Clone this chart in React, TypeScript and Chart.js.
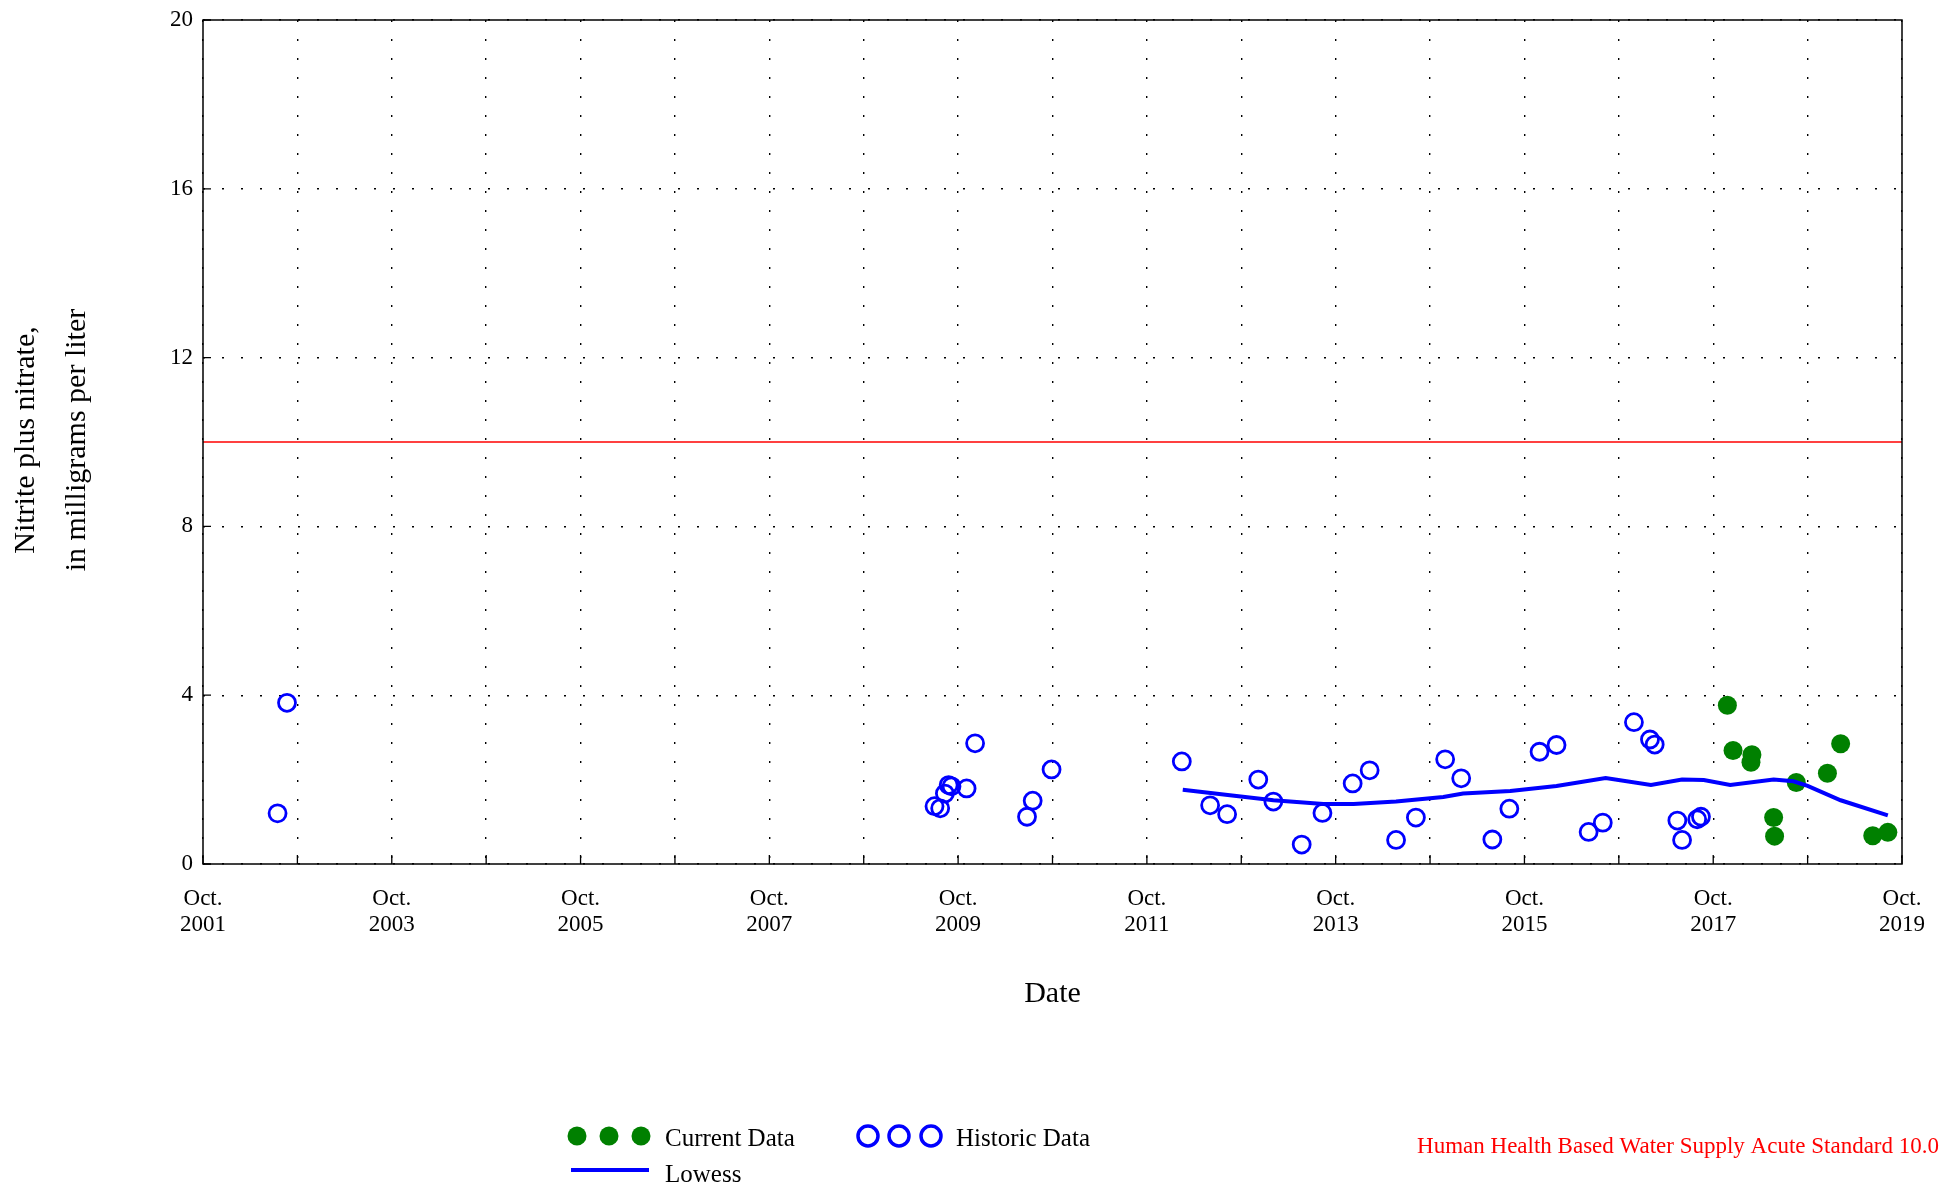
import { useEffect, useRef } from 'react';
import { Chart, registerables } from 'chart.js';

Chart.register(...registerables);

// ---- Data (decimal years, mg/L) ----
const historicDates = [
  2002.54, 2002.64, 2009.5, 2009.56, 2009.61, 2009.65, 2009.68, 2009.84, 2009.93,
  2010.48, 2010.54, 2010.74, 2012.12, 2012.42, 2012.6, 2012.93, 2013.09, 2013.39,
  2013.61, 2013.93, 2014.11, 2014.39, 2014.6, 2014.91, 2015.08, 2015.41, 2015.59,
  2015.91, 2016.09, 2016.43, 2016.58, 2016.91, 2017.08, 2017.13, 2017.37, 2017.42,
  2017.58, 2017.62,
];
const historicValues = [
  1.2, 3.82, 1.37, 1.32, 1.67, 1.87, 1.84, 1.79, 2.86,
  1.12, 1.5, 2.24, 2.43, 1.39, 1.18, 2.0, 1.48, 0.46,
  1.21, 1.91, 2.22, 0.57, 1.1, 2.48, 2.03, 0.58, 1.31,
  2.66, 2.82, 0.76, 0.98, 3.36, 2.95, 2.83, 1.03, 0.57,
  1.06, 1.12,
];
const currentDates = [2017.9, 2017.96, 2018.15, 2018.16, 2018.39, 2018.4, 2018.63, 2018.96, 2019.1, 2019.44, 2019.6];
const currentValues = [3.76, 2.69, 2.41, 2.59, 1.1, 0.66, 1.93, 2.15, 2.85, 0.67, 0.75];
const lowessDates = [
  2012.13, 2012.63, 2013.09, 2013.62, 2013.94, 2014.39, 2014.89, 2015.1, 2015.6, 2016.09,
  2016.61, 2017.09, 2017.42, 2017.65, 2017.93, 2018.39, 2018.6, 2018.75, 2019.1, 2019.6,
];
const lowessValues = [
  1.76, 1.63, 1.51, 1.42, 1.42, 1.48, 1.59, 1.67, 1.73, 1.85,
  2.04, 1.87, 2.0, 1.99, 1.87, 2.0, 1.96, 1.85, 1.51, 1.15,
];
const standardValue = 10.0;
const xRange = [2001.75, 2019.75];
const xTickDates = [
  2001.75, 2002.75, 2003.75, 2004.75, 2005.75, 2006.75, 2007.75, 2008.75, 2009.75, 2010.75,
  2011.75, 2012.75, 2013.75, 2014.75, 2015.75, 2016.75, 2017.75, 2018.75, 2019.75,
];
const xTickLabels = [
  'Oct.\n2001', '', 'Oct.\n2003', '', 'Oct.\n2005', '', 'Oct.\n2007', '', 'Oct.\n2009', '',
  'Oct.\n2011', '', 'Oct.\n2013', '', 'Oct.\n2015', '', 'Oct.\n2017', '', 'Oct.\n2019',
];
const yTickValues = [0, 4, 8, 12, 16, 20];

const SERIF = '"Liberation Serif", "Times New Roman", serif';
const BLUE = '#0000ff';
const GREEN = '#008000';
const RED = '#ff0000';

const decorPlugin = {
  id: 'decor',
  afterDraw(chart: any) {
    const ctx = chart.ctx;
    const { left, right, top, bottom } = chart.chartArea;
    const xs = chart.scales.x;
    const ys = chart.scales.y;
    ctx.save();
    // frame
    ctx.strokeStyle = '#000';
    ctx.lineWidth = 1.5;
    ctx.strokeRect(left, top, right - left, bottom - top);
    // inward ticks
    ctx.lineWidth = 1.3;
    ctx.beginPath();
    xTickDates.forEach((d) => {
      const px = xs.getPixelForValue(d);
      ctx.moveTo(px, bottom);
      ctx.lineTo(px, bottom - 9);
    });
    yTickValues.forEach((v) => {
      const py = ys.getPixelForValue(v);
      ctx.moveTo(left, py);
      ctx.lineTo(left + 8, py);
    });
    ctx.stroke();

    // axis titles
    ctx.fillStyle = '#000';
    ctx.font = `30px ${SERIF}`;
    ctx.textAlign = 'center';
    ctx.textBaseline = 'middle';
    ctx.fillText('Date', (left + right) / 2, 994);
    ctx.save();
    ctx.translate(26, 440);
    ctx.rotate(-Math.PI / 2);
    ctx.fillText('Nitrite plus nitrate,', 0, 0);
    ctx.restore();
    ctx.save();
    ctx.translate(77, 440);
    ctx.rotate(-Math.PI / 2);
    ctx.fillText('in milligrams per liter', 0, 0);
    ctx.restore();

    // legend
    const ly = 1136;
    ctx.fillStyle = GREEN;
    [577, 609, 641].forEach((cx) => {
      ctx.beginPath();
      ctx.arc(cx, ly, 9.5, 0, Math.PI * 2);
      ctx.fill();
    });
    ctx.strokeStyle = BLUE;
    ctx.lineWidth = 3.5;
    [868, 899, 931].forEach((cx) => {
      ctx.beginPath();
      ctx.arc(cx, ly, 10, 0, Math.PI * 2);
      ctx.stroke();
    });
    ctx.lineWidth = 4;
    ctx.beginPath();
    ctx.moveTo(571, 1170);
    ctx.lineTo(649, 1170);
    ctx.stroke();
    ctx.fillStyle = '#000';
    ctx.font = `25px ${SERIF}`;
    ctx.textAlign = 'left';
    ctx.fillText('Current Data', 665, 1139);
    ctx.fillText('Historic Data', 956, 1139);
    ctx.fillText('Lowess', 665, 1175);

    ctx.fillStyle = RED;
    ctx.font = `23px ${SERIF}`;
    ctx.textAlign = 'right';
    ctx.fillText('Human Health Based Water Supply Acute Standard 10.0', 1939, 1147);
    ctx.restore();
  },
};

export default function App() {
  const ref = useRef<HTMLCanvasElement>(null);
  useEffect(() => {
    if (!ref.current) return;
    const chart = new Chart(ref.current, {
      type: 'scatter',
      data: {
        datasets: [
          {
            label: 'Standard',
            data: xRange.map((x) => ({ x, y: standardValue })),
            showLine: true,
            borderColor: RED,
            borderWidth: 1.3,
            pointRadius: 0,
          },
          {
            label: 'Lowess',
            data: lowessDates.map((x, i) => ({ x, y: lowessValues[i] })),
            showLine: true,
            borderColor: BLUE,
            borderWidth: 4,
            pointRadius: 0,
          },
          {
            label: 'Historic Data',
            data: historicDates.map((x, i) => ({ x, y: historicValues[i] })),
            pointRadius: 8.5,
            pointStyle: 'circle',
            borderColor: BLUE,
            backgroundColor: 'rgba(0,0,0,0)',
            pointBorderWidth: 2.8,
          },
          {
            label: 'Current Data',
            data: currentDates.map((x, i) => ({ x, y: currentValues[i] })),
            pointRadius: 9.5,
            pointStyle: 'circle',
            borderColor: GREEN,
            backgroundColor: GREEN,
            pointBorderWidth: 0,
          },
        ],
      },
      options: {
        animation: false,
        responsive: false,
        devicePixelRatio: 1,
        layout: { padding: { left: 0, top: 20, right: 40, bottom: 224 } },
        plugins: { legend: { display: false }, tooltip: { enabled: false } },
        scales: {
          x: {
            type: 'linear',
            min: xRange[0],
            max: xRange[1],
            afterBuildTicks: (scale: any) => {
              scale.ticks = xTickDates.map((v) => ({ value: v }));
            },
            afterFit: (scale: any) => {
              scale.height = 100;
              scale.paddingLeft = 0;
              scale.paddingRight = 0;
            },
            ticks: {
              autoSkip: false,
              maxRotation: 0,
              minRotation: 0,
              padding: 22,
              color: '#000',
              font: { family: SERIF, size: 23, lineHeight: 1.13 },
              callback: (_v: any, i: number) => {
                const s = xTickLabels[i] || '';
                return s ? s.split('\n') : '';
              },
            },
            grid: { color: '#000', lineWidth: 1.4, drawTicks: false },
            border: { display: false, dash: [2, 17] },
          },
          y: {
            min: 0,
            max: 20,
            afterBuildTicks: (scale: any) => {
              scale.ticks = yTickValues.map((v) => ({ value: v }));
            },
            afterFit: (scale: any) => {
              scale.width = 203;
              scale.paddingTop = 0;
              scale.paddingBottom = 0;
            },
            ticks: {
              padding: 10,
              color: '#000',
              font: { family: SERIF, size: 23 },
            },
            grid: { color: '#000', lineWidth: 1.4, drawTicks: false },
            border: { display: false, dash: [2, 17] },
          },
        },
      },
      plugins: [decorPlugin],
    } as any);
    return () => chart.destroy();
  }, []);
  return (
    <div style={{ position: 'fixed', left: 0, top: 0, width: 1942, height: 1188, background: '#fff' }}>
      <canvas ref={ref} width={1942} height={1188} style={{ width: 1942, height: 1188 }} />
    </div>
  );
}
